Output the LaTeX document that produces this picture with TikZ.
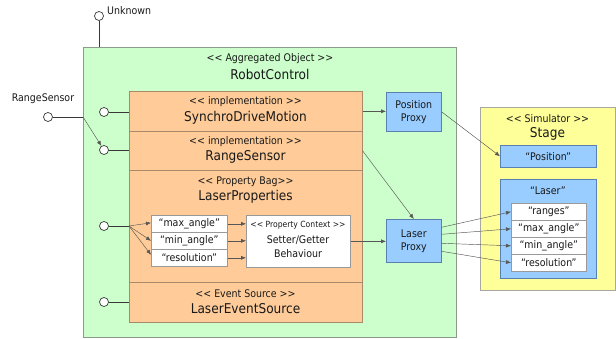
\documentclass[tikz,border=0pt]{standalone}
\usepackage{fontspec}
\setmainfont{DejaVu Sans Condensed}
\usetikzlibrary{arrows.meta}
\definecolor{aggfill}{HTML}{CCFFCC}
\definecolor{aggdraw}{HTML}{8C9A8C}
\definecolor{implfill}{HTML}{FFCC99}
\definecolor{impldraw}{HTML}{A88A6A}
\definecolor{proxyfill}{HTML}{99CCFF}
\definecolor{proxydraw}{HTML}{5A80B0}
\definecolor{simfill}{HTML}{FFFF99}
\definecolor{simdraw}{HTML}{A8A8A0}
\definecolor{wiredraw}{HTML}{383838}
% guillemet-free stereotype brackets
\newcommand{\stl}{<{}<}
\newcommand{\str}{>{}>}
\tikzset{
  box/.style={draw, anchor=north west, inner sep=0pt, line width=0.6pt},
  aggbox/.style={box, fill=aggfill, draw=aggdraw},
  implbox/.style={box, fill=implfill, draw=impldraw},
  proxybox/.style={box, fill=proxyfill, draw=proxydraw},
  simbox/.style={box, fill=simfill, draw=simdraw},
  propbox/.style={box, fill=white, draw=gray!80},
  port/.style={circle, draw=wiredraw, fill=white, line width=0.7pt, minimum size=9pt, inner sep=0pt},
  stub/.style={draw=wiredraw, line width=0.7pt},
  flow/.style={draw=wiredraw!85, line width=0.45pt, -{Latex[length=5pt,width=4pt]}},
  small/.style={font=\fontsize{10.5}{12}\selectfont},
  tiny/.style={font=\fontsize{8.5}{10}\selectfont},
  big/.style={font=\fontsize{13.5}{15}\selectfont},
  txt/.style={inner sep=0pt, text=black!90}
}
\begin{document}
\begin{tikzpicture}[x=1pt,y=-1pt]
\useasboundingbox (0,0) rectangle (616,339);

% aggregated object
\node[aggbox, minimum width=373pt, minimum height=290pt] (robot) at (83,47) {};
\node[txt, small] (robotst) at (270,59) {\stl{} Aggregated Object \str};
\node[txt, big] (robotname) at (270,74) {RobotControl};

% implementation parts
\node[implbox, minimum width=233pt, minimum height=40pt] (synchro) at (129,91) {};
\node[txt, small] (synchrost) at (245.5,102) {\stl{} implementation \str};
\node[txt, big] (synchroname) at (245.5,118) {SynchroDriveMotion};

\node[implbox, minimum width=233pt, minimum height=39pt] (range) at (129,131) {};
\node[txt, small] (rangest) at (245.5,142) {\stl{} implementation \str};
\node[txt, big] (rangename) at (245.5,157) {RangeSensor};

\node[implbox, minimum width=233pt, minimum height=112pt] (props) at (129,170) {};
\node[txt, small] (propsst) at (245.5,182) {\stl{} Property Bag\str};
\node[txt, big] (propsname) at (245.5,197) {LaserProperties};

\node[implbox, minimum width=233pt, minimum height=40pt] (events) at (129,282) {};
\node[txt, small] (eventsst) at (245.5,294) {\stl{} Event Source \str};
\node[txt, big] (eventsname) at (245.5,309) {LaserEventSource};

% property entries and their context
\node[propbox, minimum width=76pt, minimum height=17pt] (p1) at (151,215) {};
\node[txt, small] at (p1.center) {“max\_angle”};
\node[propbox, minimum width=76pt, minimum height=17pt] (p2) at (151,232) {};
\node[txt, small] at (p2.center) {“min\_angle”};
\node[propbox, minimum width=76pt, minimum height=17pt] (p3) at (151,249) {};
\node[txt, small] at (p3.center) {“resolution”};

\node[propbox, minimum width=104pt, minimum height=52pt] (setter) at (246,215) {};
\node[txt, tiny] (setterst) at (298,225) {\stl{} Property Context \str};
\node[txt, small] (setter1) at (298,240) {Setter/Getter};
\node[txt, small] (setter2) at (298,254) {Behaviour};

% proxies
\node[proxybox, minimum width=55pt, minimum height=39pt] (pproxy) at (386,92) {};
\node[txt, small, align=center] at (pproxy.center) {Position\\[1pt]Proxy};
\node[proxybox, minimum width=55pt, minimum height=43pt] (lproxy) at (386,219) {};
\node[txt, small, align=center] at (lproxy.center) {Laser\\[1pt]Proxy};

% simulator
\node[simbox, minimum width=135pt, minimum height=183pt] (stage) at (480,107) {};
\node[txt, small] (stagest) at (547.5,119) {\stl{} Simulator \str};
\node[txt, big] (stagename) at (547.5,134) {Stage};
\node[proxybox, minimum width=96pt, minimum height=22pt] (pos) at (500,145) {};
\node[txt, small] at (pos.center) {“Position”};
\node[proxybox, minimum width=96pt, minimum height=99pt] (laser) at (500,179) {};
\node[txt, small] (lasername) at (548,191) {“Laser”};
\node[propbox, minimum width=75pt, minimum height=17pt] (r1) at (511,203) {};
\node[txt, small] at (r1.center) {“ranges”};
\node[propbox, minimum width=75pt, minimum height=17pt] (r2) at (511,220) {};
\node[txt, small] at (r2.center) {“max\_angle”};
\node[propbox, minimum width=75pt, minimum height=17pt] (r3) at (511,237) {};
\node[txt, small] at (r3.center) {“min\_angle”};
\node[propbox, minimum width=75pt, minimum height=17pt] (r4) at (511,254) {};
\node[txt, small] at (r4.center) {“resolution”};

% ports
\node[port] (unk) at (99,16) {};
\node[txt, small, anchor=west] (unklabel) at (107,11) {Unknown};
\node[port] (ext) at (48,117) {};
\node[txt, small] (extlabel) at (43,99) {RangeSensor};
\node[port] (c1) at (104,112) {};
\node[port] (c2) at (104,150) {};
\node[port] (c3) at (104,226) {};
\node[port] (c4) at (104,302) {};

% port connections
\draw[stub] (unk.south) -- (unk.south |- robot.north);
\coordinate (entry) at (ext.east -| robot.west);
\draw[stub] (ext.east) -- (entry);
\draw[flow] (entry) -- (c2);
\draw[stub] (c1.east) -- (c1.east -| synchro.west);
\draw[stub] (c2.east) -- (c2.east -| range.west);
\coordinate (fan) at (c3.east -| props.west);
\draw[stub] (c3.east) -- (fan);
\draw[stub] (c4.east) -- (c4.east -| events.west);
\draw[flow] (fan) -- ([yshift=1pt]p1.west);
\draw[flow] (fan) -- (p2.west);
\draw[flow] (fan) -- ([yshift=3pt]p3.west);

% property flows
\draw[flow] (p1.east) -- (p1.east -| setter.west);
\draw[flow] (p2.east) -- (p2.east -| setter.west);
\draw[flow] (p3.east) -- (p3.east -| setter.west);
\draw[flow] (setter.east) -- (setter.east -| lproxy.west);

% proxy flows
\draw[flow] (synchro.east) -- (synchro.east -| pproxy.west);
\draw[flow] (range.east) -- (lproxy.north);
\draw[flow] (pproxy.east) -- (pos.west);
\draw[flow] ([yshift=13.5pt]lproxy.east) -- (r1.west);
\draw[flow] ([yshift=6.5pt]lproxy.east) -- (r2.west);
\draw[flow] ([yshift=-2.5pt]lproxy.east) -- (r3.west);
\draw[flow] ([yshift=-10.5pt]lproxy.east) -- (r4.west);
\end{tikzpicture}
\end{document}
